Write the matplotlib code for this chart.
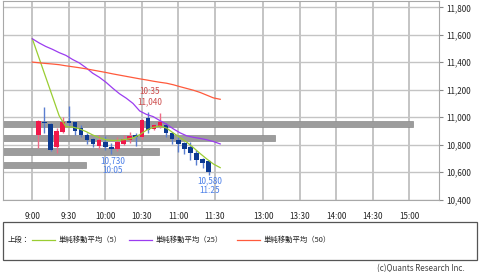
import numpy as np
import matplotlib
matplotlib.use("Agg")
import matplotlib.pyplot as plt
from matplotlib.transforms import blended_transform_factory
from matplotlib.lines import Line2D
from matplotlib.patches import Rectangle

plt.rcParams['font.family'] = ['Noto Sans CJK JP', 'DejaVu Sans']

# ---------------- data ----------------
candle_times = ["9:05", "9:10", "9:15", "9:20", "9:25", "9:30", "9:35", "9:40", "9:45", "9:50",
                "9:55", "10:00", "10:05", "10:10", "10:15", "10:20", "10:25", "10:30", "10:35",
                "10:40", "10:45", "10:50", "10:55", "11:00", "11:05", "11:10", "11:15", "11:20", "11:25"]
opens  = [10871, 10968, 10951, 10785, 10890, 10975, 10963, 10920, 10871, 10839,
          10793, 10822, 10785, 10768, 10805, 10834, 10871, 10854, 10993,
          10912, 10927, 10944, 10883, 10834, 10810, 10785, 10742, 10693, 10680]
highs  = [10978, 11073, 10960, 10920, 11000, 11082, 10968, 10944, 10883, 10850,
          10871, 10863, 10815, 10858, 10871, 10893, 10883, 10990, 11040,
          10951, 11029, 10956, 10895, 10858, 10822, 10822, 10761, 10700, 10685]
lows   = [10778, 10883, 10754, 10737, 10885, 10931, 10871, 10858, 10805, 10785,
          10769, 10761, 10730, 10756, 10795, 10815, 10793, 10840, 10885,
          10905, 10920, 10858, 10805, 10749, 10735, 10688, 10652, 10628, 10580]
closes = [10975, 10960, 10761, 10900, 10968, 10960, 10902, 10871, 10834, 10805,
          10834, 10781, 10766, 10822, 10839, 10866, 10858, 10980, 10907,
          10944, 10961, 10883, 10839, 10805, 10769, 10737, 10688, 10669, 10603]

ma_start, ma_end = "9:00", "11:34.5"
ma5  = [11571, 11431, 11291, 11151, 11010, 10930, 10928, 10915, 10895, 10870,
        10850, 10835, 10830, 10832, 10838, 10848, 10872, 10905, 10925, 10935,
        10920, 10885, 10852, 10818, 10778, 10735, 10695, 10658, 10632]
ma25 = [11571, 11541, 11515, 11494, 11470, 11450, 11420, 11395, 11360, 11320,
        11290, 11253, 11210, 11170, 11138, 11100, 11045, 11020, 11004, 10975,
        10948, 10915, 10886, 10864, 10853, 10845, 10835, 10822, 10805]
ma50 = [11401, 11396, 11391, 11387, 11382, 11374, 11367, 11360, 11352, 11343,
        11334, 11325, 11315, 11306, 11297, 11288, 11279, 11271, 11262, 11254,
        11247, 11236, 11222, 11209, 11196, 11180, 11160, 11140, 11130]

profile_price  = [10650, 10750, 10850, 10950]
profile_volume = [8.3, 15.6, 27.2, 41.0]
profile_axis_max = 43.6

tick_times = ["9:00", "9:30", "10:00", "10:30", "11:00", "11:30",
              "13:00", "13:30", "14:00", "14:30", "15:00"]
yticks = [10400, 10600, 10800, 11000, 11200, 11400, 11600, 11800]

ann_high = ("10:35", 11040)
ann_low1 = ("10:05", 10730)
ann_low2 = ("11:25", 10580)

legend_labels = ["単純移動平均（5）", "単純移動平均（25）", "単純移動平均（50）"]
ma_colors = ["#9acd32", "#9b3cf0", "#ff5a3c"]


def tmin(s):
    """minutes from 9:00 on a session axis with a shortened lunch gap"""
    h, m = s.split(":")
    t = int(h) * 60 + float(m) - 540
    if t >= 210:
        t -= 50
    return t


# ---------------- figure ----------------
fig = plt.figure(figsize=(4.8, 2.72), dpi=100)
ax = fig.add_axes([3 / 480, 1 - 199.5 / 272, 436 / 480, 198.5 / 272])
ax.set_xlim(-24.1, 334.4)
ax.set_ylim(10400, 11846)

gridc = "#c4c4c4"
for t in tick_times:
    ax.axvline(tmin(t), color=gridc, lw=1.4, zorder=0)
for y in yticks:
    ax.axhline(y, color=gridc, lw=1.0, zorder=0)

# volume-by-price bars
trans = blended_transform_factory(ax.transAxes, ax.transData)
ax.barh(profile_price, [v / profile_axis_max for v in profile_volume], left=0,
        height=46, color="#9c9c9c", edgecolor="#8a8a8a", lw=0.5,
        transform=trans, zorder=1)

# candles
xs = np.array([tmin(t) for t in candle_times])
o = np.array(opens); c = np.array(closes); h = np.array(highs); l = np.array(lows)
up = c >= o
body_col = np.where(up, "#f0184a", "#0c3a92")
wick_col = np.where(up, "#ee6a86", "#5a7ed0")
ax.vlines(xs, l, h, colors=wick_col, lw=1.0, zorder=2)
bottoms = np.minimum(o, c)
heights = np.maximum(np.abs(c - o), 6)
ax.bar(xs, heights, bottom=bottoms, width=3.7, color=body_col, lw=0, zorder=3)

# moving averages
mx = np.linspace(tmin(ma_start), tmin(ma_end), len(ma5))
for vals, col in zip([ma5, ma25, ma50], ma_colors):
    ax.plot(mx, vals, color=col, lw=0.9, zorder=4)

# annotations
fs = 5.9
red_t = "#cc4a4a"; blue_t = "#4a7ee8"
ax.annotate(ann_high[0], (tmin(ann_high[0]), ann_high[1]), xytext=(1.5, 20),
            textcoords="offset pixels", ha="center", va="center", fontsize=fs, color=red_t, zorder=5)
ax.annotate(f"{ann_high[1]:,}", (tmin(ann_high[0]), ann_high[1]), xytext=(1.5, 10),
            textcoords="offset pixels", ha="center", va="center", fontsize=fs, color=red_t, zorder=5)
for tt, val in [ann_low1, ann_low2]:
    ax.annotate(f"{val:,}", (tmin(tt), val), xytext=(1.5, -6.5),
                textcoords="offset pixels", ha="center", va="center", fontsize=fs, color=blue_t, zorder=5)
    ax.annotate(tt, (tmin(tt), val), xytext=(1.5, -16),
                textcoords="offset pixels", ha="center", va="center", fontsize=fs, color=blue_t, zorder=5)

# axes styling
ax.set_xticks([tmin(t) for t in tick_times])
ax.set_xticklabels(tick_times, fontsize=5.8, color="#222222")
ax.tick_params(axis="x", length=0, pad=9)
ax.yaxis.tick_right()
ax.set_yticks(yticks)
ax.set_yticklabels([f"{v:,}" for v in yticks], fontsize=5.8, color="#222222")
ax.tick_params(axis="y", length=3, width=0.8, color="#888888", pad=2.5)
for sp in ax.spines.values():
    sp.set_color("#a8a8a8")
    sp.set_linewidth(0.8)

# legend box
W, H = 480, 272
def fx(px): return px / W
def fy(py): return 1 - py / H
fig.add_artist(Rectangle((fx(3), fy(260)), fx(474), (260 - 222) / H, transform=fig.transFigure,
                         fill=False, edgecolor="#555555", lw=0.9))
ly = fy(239.5)
fig.text(fx(8), ly, "上段：", fontsize=5.3, va="center", ha="left", color="#222222")
line_starts = [32, 129, 237]
for x0, col, lab in zip(line_starts, ma_colors, legend_labels):
    fig.add_artist(Line2D([fx(x0), fx(x0 + 23)], [ly, ly], transform=fig.transFigure, color=col, lw=0.9))
    fig.text(fx(x0 + 27), ly, lab, fontsize=5.3, va="center", ha="left", color="#222222")

fig.text(fx(465), fy(268.5), "(c)Quants Research Inc.", fontsize=5.8, ha="right", va="center", color="#444444")

fig.savefig("out.png", dpi=100, facecolor="white")
